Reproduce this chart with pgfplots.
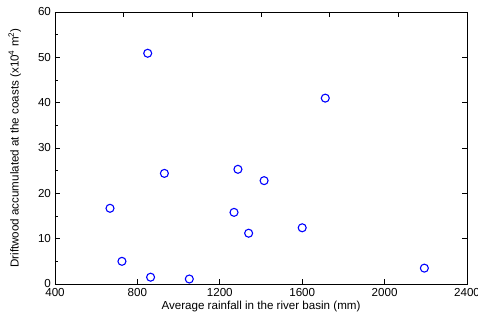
\documentclass[border=0pt]{standalone}
\usepackage{pgfplots}
\pgfplotsset{compat=1.18}
\usepackage{fontspec}
\setmainfont{Liberation Sans}
\usetikzlibrary{calc}
\begin{document}
\fontsize{11.6}{13}\selectfont
\begin{tikzpicture}
\begin{axis}[
  name=ax,
  scale only axis, width=412pt, height=272pt,
  xmin=400, xmax=2400, ymin=0, ymax=60,
  xtick={400,800,...,2400}, ytick={0,10,...,60},
  minor y tick num=1,
  xtick pos=bottom, ytick pos=left,
  tick align=inside,
  major tick length=5pt, minor tick length=3pt,
  tick style={black, line width=0.8pt},
  axis line style={line width=0.8pt},
  /pgf/number format/assume math mode=true,
  /pgf/number format/1000 sep={},
  tick label style={font=\fontsize{11.6}{13}\selectfont},
  label style={font=\fontsize{11.6}{13}\selectfont},
  xlabel={Average rainfall in the river basin (mm)},
  ylabel={Driftwood accumulated at the coasts (x10\textsuperscript{4} m\textsuperscript{2})},
  xlabel style={at={(axis description cs:0.5,0)}, anchor=north, yshift=-13pt},
  ylabel style={at={(axis description cs:0,0.5)}, anchor=south, yshift=30pt},
  clip=false,
]
\addplot[only marks, mark=o, mark size=4pt, blue, line width=1.1pt] coordinates {
(850,50.9) (1712,41.0) (931,24.4) (667,16.7) (725,5.0) (864,1.5)
(1052,1.1) (1269,15.8) (1288,25.3) (1415,22.8) (1340,11.2) (1600,12.4) (2193,3.5)
};
\end{axis}
\begin{axis}[
  scale only axis, width=412pt, height=272pt,
  xmin=0, xmax=6, ymin=0, ymax=60,
  xtick={1,...,5}, ytick={10,20,...,50},
  axis x line*=top, axis y line*=right,
  xticklabels={}, yticklabels={},
  tick align=inside,
  major tick length=5pt,
  tick style={black, line width=0.8pt},
  axis line style={line width=0.8pt, -},
]
\end{axis}
\pgfresetboundingbox
\path ($(ax.south west)+(-55pt,-38pt)$) rectangle ($(ax.north east)+(11pt,12pt)$);
\end{tikzpicture}
\end{document}
